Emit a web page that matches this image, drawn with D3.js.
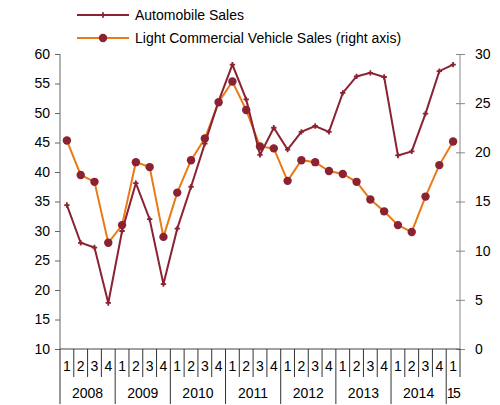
<!DOCTYPE html>
<html>
<head>
<meta charset="utf-8">
<script src="https://cdn.jsdelivr.net/npm/d3@7"></script>
<style>
  body { margin: 0; background: #fff; }
  text { font-family: "Liberation Sans", Arial, sans-serif; fill: #000; }
</style>
</head>
<body>
<svg id="chart" width="500" height="405"></svg>
<script>
// quarters 2008Q1 .. 2015Q1
var years = ['2008', '2009', '2010', '2011', '2012', '2013', '2014', '15'];
var quarters = ['1','2','3','4','1','2','3','4','1','2','3','4','1','2','3','4',
                '1','2','3','4','1','2','3','4','1','2','3','4','1'];

// automobile sales, left axis
var autoSales = [34.4, 28.0, 27.2, 17.8, 30.0, 38.1, 32.0, 21.0,
                 30.4, 37.5, 44.8, 52.0, 58.2, 52.3, 42.9, 47.5,
                 43.8, 46.8, 47.8, 46.8, 53.4, 56.2, 56.8, 56.1,
                 42.8, 43.5, 49.9, 57.1, 58.2];
// light commercial vehicle sales, right axis
var lcvSales = [21.2, 17.7, 17.0, 10.8, 12.6, 19.0, 18.5, 11.4,
                15.9, 19.2, 21.4, 25.1, 27.2, 24.3, 20.6, 20.4,
                17.1, 19.2, 19.0, 18.1, 17.8, 17.0, 15.2, 14.0,
                12.6, 11.9, 15.5, 18.7, 21.1];

var leftTicks = [10, 15, 20, 25, 30, 35, 40, 45, 50, 55, 60];
var rightTicks = [0, 5, 10, 15, 20, 25, 30];

var autoColor = '#8b2232';
var lcvColor = '#ea7a14';

var svg = d3.select('#chart');
var plotLeft = 60, plotRight = 460, plotTop = 54, plotBottom = 349;

var xScale = d3.scaleBand()
    .domain(d3.range(quarters.length))
    .range([plotLeft, plotRight])
    .padding(0);
var yLeft = d3.scaleLinear().domain([10, 60]).range([plotBottom, plotTop]);
var yRight = d3.scaleLinear().domain([0, 30]).range([plotBottom, plotTop]);

// left axis
var leftAxis = svg.append('g')
    .attr('transform', 'translate(' + plotLeft + ',0)')
    .call(d3.axisLeft(yLeft).tickValues(leftTicks).tickSize(5).tickPadding(5));
leftAxis.select('.domain').attr('stroke', '#666').attr('d', 'M0,' + plotTop + 'V' + plotBottom);
leftAxis.selectAll('.tick line').attr('stroke', '#666');
leftAxis.selectAll('text').style('font-size', '14px').attr('fill', '#000');

// right axis, ticks cross the line
var rightAxis = svg.append('g')
    .attr('transform', 'translate(' + plotRight + ',0)')
    .call(d3.axisRight(yRight).tickValues(rightTicks).tickSize(5).tickPadding(10));
rightAxis.select('.domain').attr('stroke', '#888').attr('d', 'M0,' + plotTop + 'V' + plotBottom);
rightAxis.selectAll('.tick line').attr('stroke', '#888').attr('x1', -4).attr('x2', 5);
rightAxis.selectAll('text').style('font-size', '14px').attr('fill', '#000');

// bottom category axis
var bw = xScale.bandwidth();
svg.append('line')
    .attr('x1', plotLeft).attr('x2', plotRight)
    .attr('y1', plotBottom).attr('y2', plotBottom)
    .attr('stroke', '#444');

// separators
d3.range(quarters.length + 1).forEach(function(i) {
    var x = plotLeft + i * bw;
    var isYear = (i % 4 === 0) && i < quarters.length;
    svg.append('line')
        .attr('x1', x).attr('x2', x)
        .attr('y1', plotBottom).attr('y2', isYear ? 404 : 377)
        .attr('stroke', '#333');
});

svg.append('g').selectAll('text')
    .data(quarters)
    .enter()
    .append('text')
    .attr('x', function(d, i) { return xScale(i) + bw / 2; })
    .attr('y', 371)
    .attr('text-anchor', 'middle')
    .style('font-size', '14px')
    .text(function(d) { return d; });

svg.append('g').selectAll('text')
    .data(years)
    .enter()
    .append('text')
    .attr('x', function(d, i) {
        if (i === years.length - 1) return xScale(i * 4) + bw / 2;
        return xScale(i * 4) + bw * 2;
    })
    .attr('y', 398)
    .attr('text-anchor', 'middle')
    .style('font-size', '14px')
    .style('letter-spacing', function(d) { return d === '15' ? '-1.5px' : null; })
    .text(function(d) { return d; });

// lines
var autoLine = d3.line()
    .x(function(d, i) { return xScale(i) + bw / 2; })
    .y(function(d) { return yLeft(d); });
var lcvLine = d3.line()
    .x(function(d, i) { return xScale(i) + bw / 2; })
    .y(function(d) { return yRight(d); });

svg.append('path')
    .datum(lcvSales)
    .attr('d', lcvLine)
    .attr('fill', 'none')
    .attr('stroke', lcvColor)
    .attr('stroke-width', 2);

svg.append('g').selectAll('circle')
    .data(lcvSales)
    .enter()
    .append('circle')
    .attr('cx', function(d, i) { return xScale(i) + bw / 2; })
    .attr('cy', function(d) { return yRight(d); })
    .attr('r', 4.2)
    .attr('fill', autoColor);

svg.append('path')
    .datum(autoSales)
    .attr('d', autoLine)
    .attr('fill', 'none')
    .attr('stroke', autoColor)
    .attr('stroke-width', 2);

var star = d3.symbol().type(d3.symbolCross).size(16);
svg.append('g').selectAll('path')
    .data(autoSales)
    .enter()
    .append('path')
    .attr('d', star)
    .attr('transform', function(d, i) {
        return 'translate(' + (xScale(i) + bw / 2) + ',' + yLeft(d) + ')';
    })
    .attr('fill', autoColor);

// legend
var legend = svg.append('g');
legend.append('line').attr('x1', 77).attr('x2', 129).attr('y1', 15).attr('y2', 15)
    .attr('stroke', autoColor).attr('stroke-width', 2);
legend.append('path').attr('d', star).attr('transform', 'translate(103,15)').attr('fill', autoColor);
legend.append('text').attr('x', 135).attr('y', 20).style('font-size', '14px').text('Automobile Sales');

legend.append('line').attr('x1', 77).attr('x2', 129).attr('y1', 38).attr('y2', 38)
    .attr('stroke', lcvColor).attr('stroke-width', 2);
legend.append('circle').attr('cx', 103).attr('cy', 38).attr('r', 4.2).attr('fill', autoColor);
legend.append('text').attr('x', 135).attr('y', 43).style('font-size', '14px')
    .text('Light Commercial Vehicle Sales (right axis)');
</script>
</body>
</html>
